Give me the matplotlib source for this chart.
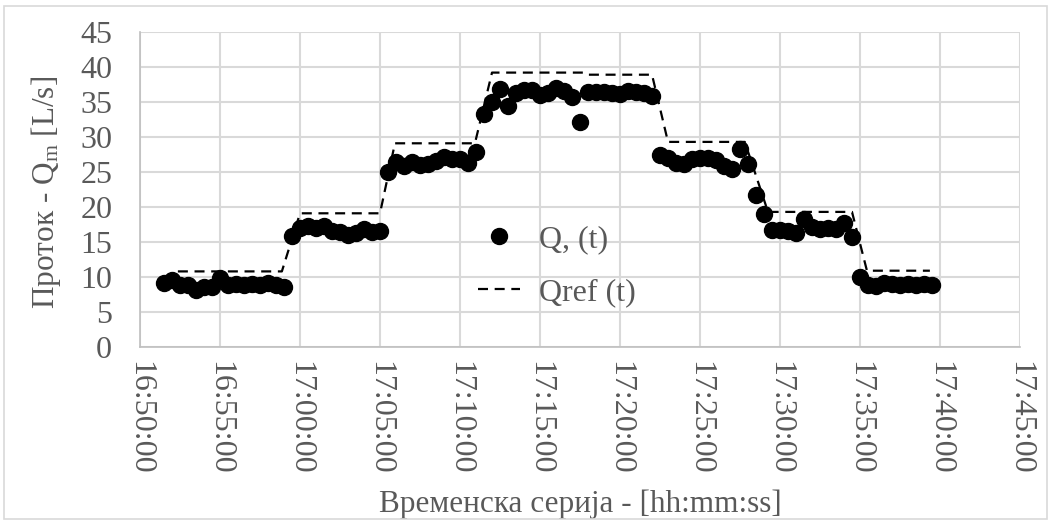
import matplotlib
matplotlib.use("Agg")
import matplotlib.pyplot as plt
import matplotlib.dates as mdates
from matplotlib.patches import Rectangle
from datetime import datetime, timedelta

# measured flow, one sample every 30 s starting 16:51:30
q_start = "16:51:30"
q_step_s = 30
q_meas = [
    9.2, 9.6, 8.8, 8.9, 8.1, 8.6, 8.6, 9.8, 8.8, 9.0, 8.8, 9.0, 8.9, 9.2, 8.9, 8.6,
    15.9, 17.0, 17.3, 17.0, 17.3, 16.6, 16.5, 16.0, 16.3, 16.8, 16.5, 16.6,
    25.0, 26.4, 25.8, 26.5, 26.0, 26.2, 26.6, 27.2, 26.8, 26.8, 26.3, 27.8,
    33.3, 35.0, 36.9, 34.5, 36.3, 36.7, 36.7, 36.0, 36.3, 37.0, 36.6, 35.7,
    32.2, 36.4, 36.4, 36.5, 36.3, 36.1, 36.6, 36.5, 36.3, 35.9,
    27.5, 27.0, 26.3, 26.2, 26.8, 27.0, 27.0, 26.7, 25.8, 25.5, 28.3, 26.1,
    21.7, 19.0,
    16.7, 16.7, 16.6, 16.3, 18.3, 17.2, 16.9, 17.0, 16.9, 17.7, 15.7,
    10.0, 8.8, 8.7, 9.1, 9.0, 8.8, 9.0, 8.9, 9.0, 8.9,
]

# reference flow set points
qref_times = ["16:52:22", "16:58:52", "17:00:00", "17:05:00", "17:05:56",
              "17:10:56", "17:12:00", "17:17:41", "17:17:54", "17:22:00",
              "17:23:00", "17:27:48", "17:29:15", "17:34:30", "17:35:26",
              "17:39:22"]
qref_vals = [10.8, 10.8, 19.1, 19.1, 29.1, 29.1, 39.2, 39.2, 38.9, 38.9,
             29.3, 29.3, 19.3, 19.3, 10.9, 10.9]

yticks = list(range(0, 50, 5))
x_first = "16:50:00"
x_last = "17:45:00"


def to_dt(s):
    return datetime.strptime("2020-01-01 " + s, "%Y-%m-%d %H:%M:%S")


t0 = to_dt(q_start)
q_times = [t0 + timedelta(seconds=q_step_s * i) for i in range(len(q_meas))]
ref_times = [to_dt(s) for s in qref_times]

plt.rcParams['font.family'] = ['Liberation Serif', 'DejaVu Serif']
plt.rcParams['mathtext.fontset'] = 'custom'
plt.rcParams['mathtext.rm'] = 'Liberation Serif'
plt.rcParams['mathtext.it'] = 'Liberation Serif:italic'

txt = '#595959'
grid_c = '#d9d9d9'
fs_tick = 23
fs_lab = 22.5

fig = plt.figure(figsize=(10.51, 5.22), dpi=100)
ax = fig.add_axes([140 / 1051, 1 - 347 / 522, 880 / 1051, 315 / 522])

ax.plot(q_times, q_meas, 'o', color='black', markersize=11.5, label='Q, (t)',
        zorder=3)
ax.plot(ref_times, qref_vals, '--', color='black', lw=1.6, dashes=(4.5, 3),
        label='Qref (t)', zorder=4)

ax.set_xlim(to_dt(x_first), to_dt(x_last))
ax.set_ylim(0, 45)
ax.set_yticks(yticks)
ax.xaxis.set_major_locator(mdates.MinuteLocator(byminute=range(0, 60, 5)))
ax.xaxis.set_major_formatter(mdates.DateFormatter('%H:%M:%S'))
ax.grid(True, color=grid_c, lw=1.5)
ax.set_axisbelow(True)
for s in ['top', 'right']:
    ax.spines[s].set_visible(False)
for s in ['left', 'bottom']:
    ax.spines[s].set_color('#bfbfbf')
    ax.spines[s].set_linewidth(1.2)
ax.tick_params(length=0, labelsize=fs_tick, colors=txt)
ax.tick_params(axis='y', pad=20)
ax.tick_params(axis='x', pad=10)
for lab in ax.get_xticklabels():
    lab.set_rotation(270)
    lab.set_va('top')
    lab.set_ha('center')

ax.set_ylabel('Проток - Q$_\\mathrm{m}$ [L/s]', fontsize=fs_lab, color=txt)
ax.yaxis.set_label_coords(-0.088, 0.49)
ax.set_xlabel('Временска серија - [hh:mm:ss]', fontsize=fs_lab, color=txt)
ax.xaxis.set_label_coords(0.5, -0.453)

leg = ax.legend(loc='center', bbox_to_anchor=(0.474, 0.257), frameon=False,
                fontsize=23, handlelength=1.3, labelspacing=0.75,
                handletextpad=0.6)
for t in leg.get_texts():
    t.set_color(txt)

fig.add_artist(Rectangle((4 / 1051, 3 / 522), 1 - 8 / 1051, 1 - 9 / 522,
                         transform=fig.transFigure, fill=False,
                         edgecolor=grid_c, lw=1.2))

fig.savefig('out.png', dpi=100)
